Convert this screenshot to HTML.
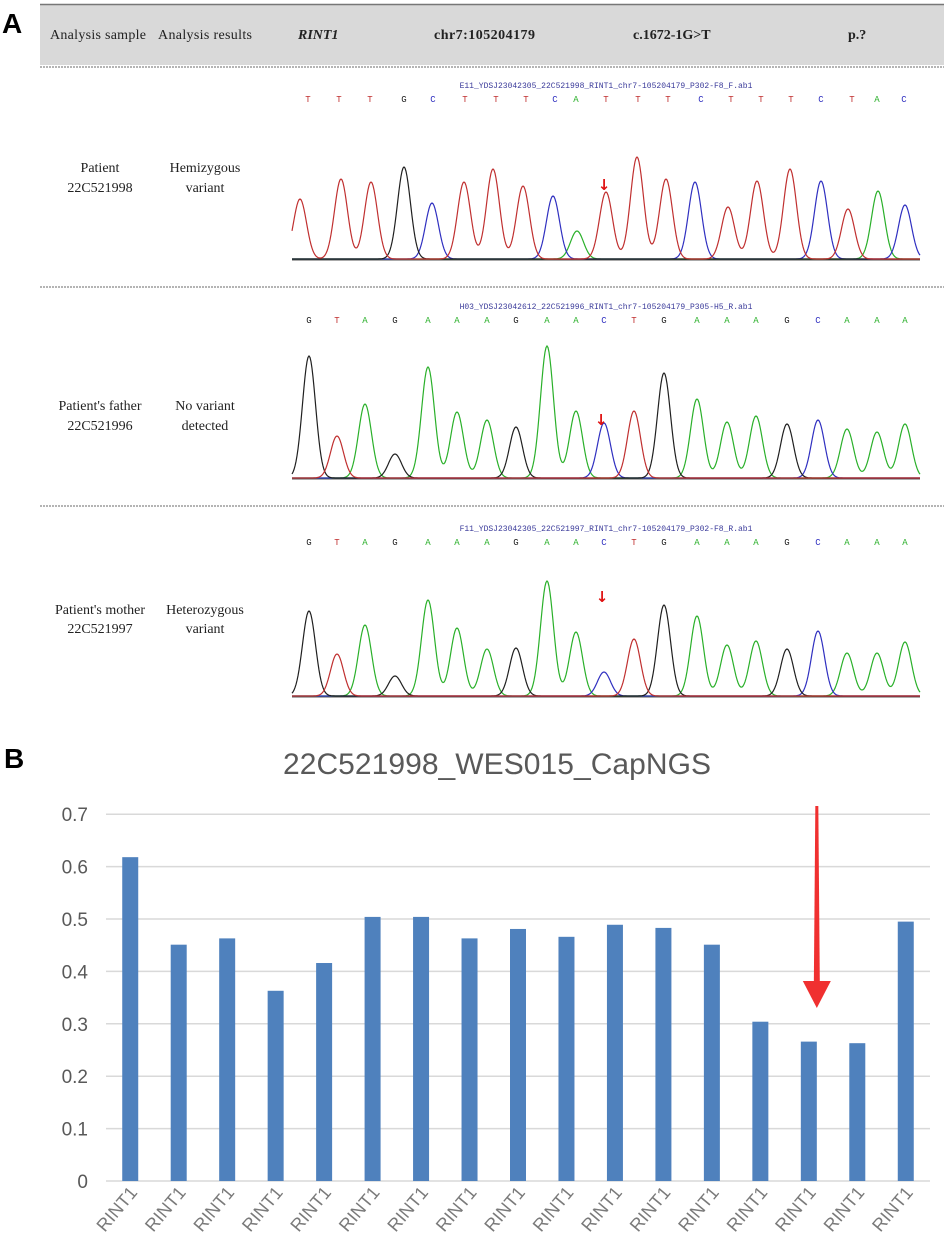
<!DOCTYPE html>
<html><head><meta charset="utf-8">
<style>
body{margin:0;background:#fff;width:944px;height:1249px;overflow:hidden;position:relative;font-family:"Liberation Serif",serif}
svg{position:absolute;left:0;top:0}
</style></head>
<body>
<svg id="fig" width="944" height="1249" viewBox="0 0 944 1249" xmlns="http://www.w3.org/2000/svg">
  <text x="2" y="33" font-family="Liberation Sans,sans-serif" font-weight="bold" font-size="28">A</text>
  <text x="4" y="768" font-family="Liberation Sans,sans-serif" font-weight="bold" font-size="28">B</text>
  <g>
    <rect x="40" y="4" width="904" height="61" fill="#d9d9d9"/>
    <line x1="40" y1="4.5" x2="944" y2="4.5" stroke="#777" stroke-width="1.5"/>
  </g>
  <g font-family="Liberation Serif,serif" font-size="14" fill="#222">
    <text x="50" y="39" textLength="96">Analysis sample</text>
    <text x="158" y="39" textLength="94">Analysis results</text>
    <text x="298" y="39" font-weight="bold" font-style="italic">RINT1</text>
    <text x="434" y="39" font-weight="bold" textLength="101">chr7:105204179</text>
    <text x="633" y="39" font-weight="bold">c.1672-1G&gt;T</text>
    <text x="848" y="39" font-weight="bold">p.?</text>
  </g>
  <g stroke="#888" stroke-dasharray="2,1" stroke-width="1.2">
    <line x1="40" y1="67" x2="944" y2="67"/>
    <line x1="40" y1="287" x2="944" y2="287"/>
    <line x1="40" y1="506" x2="944" y2="506"/>
  </g>
  <g font-family="Liberation Serif,serif" font-size="14" fill="#222" text-anchor="middle">
    <text x="100" y="172">Patient</text>
    <text x="100" y="192">22C521998</text>
    <text x="205" y="172">Hemizygous</text>
    <text x="205" y="192">variant</text>
    <text x="100" y="410">Patient's father</text>
    <text x="100" y="430">22C521996</text>
    <text x="205" y="410">No variant</text>
    <text x="205" y="430">detected</text>
    <text x="100" y="614">Patient's mother</text>
    <text x="100" y="633">22C521997</text>
    <text x="205" y="614">Heterozygous</text>
    <text x="205" y="633">variant</text>
  </g>
  <g id="chroms"></g>
  <g id="bars"></g>
</svg>
<script>
const NS="http://www.w3.org/2000/svg";
const COL={A:"#2ab02a",C:"#3030c0",G:"#202020",T:"#c03030"};
// chromatogram data
const bases1=["T","T","T","G","C","T","T","T","C","A","T","T","T","C","T","T","T","C","T","A","C"];
const pos1=[300,341,371,404,432,464,493,523,553,577,606,637,666,695,728,757,790,821,848,878,905];
const top1=[200,180,183,168,204,183,170,187,197,232,193,158,180,183,208,182,170,182,210,192,206];
const bases2=["G","T","A","G","A","A","A","G","A","A","C","T","G","A","A","A","G","C","A","A","A"];
const pos2=[309,337,365,395,428,457,487,516,547,576,604,634,664,697,727,756,787,818,847,877,905];
const top2=[357,437,405,455,368,413,421,428,347,412,424,412,374,400,423,417,425,421,430,433,425];
const top3=[612,655,626,677,601,629,650,649,582,633,673,640,606,617,646,642,650,632,654,654,643];
const chromSpecs=[
 {name:"patient",bases:bases1,pos:pos1,top:top1,base:260,x0:292,x1:920,fy:88,by:102,file:"E11_YDSJ23042305_22C521998_RINT1_chr7-105204179_P302-F8_F.ab1",arrow:[604,177],lx:[308,339,370,404,433,465,496,526,555,576,606,638,668,701,731,761,791,821,852,877,904]},
 {name:"father",bases:bases2,pos:pos2,top:top2,base:479,x0:292,x1:920,fy:309,by:323,file:"H03_YDSJ23042612_22C521996_RINT1_chr7-105204179_P305-H5_R.ab1",arrow:[601,412],lx:pos2},
 {name:"mother",bases:bases2,pos:pos2,top:top3,base:697,x0:292,x1:920,fy:531,by:545,file:"F11_YDSJ23042305_22C521997_RINT1_chr7-105204179_P302-F8_R.ab1",arrow:[602,589],lx:pos2}
];
const cg=document.getElementById("chroms");
chromSpecs.forEach(s=>{
  const g=document.createElementNS(NS,"g");
  
  
  cg.appendChild(g);
  const ft=document.createElementNS(NS,"text");
  ft.setAttribute("x",(s.x0+s.x1)/2);ft.setAttribute("y",s.fy);ft.setAttribute("text-anchor","middle");
  ft.setAttribute("font-family","Liberation Mono,monospace");ft.setAttribute("font-size","8");ft.setAttribute("fill","#3a3a9a");
  ft.textContent=s.file;
  
  
  g.appendChild(ft);
  s.bases.forEach((b,i)=>{
    const t=document.createElementNS(NS,"text");
    t.setAttribute("x",s.lx[i]);t.setAttribute("y",s.by);t.setAttribute("text-anchor","middle");
    t.setAttribute("font-family","Liberation Mono,monospace");t.setAttribute("font-size","9");t.setAttribute("fill",COL[b]);
    t.textContent=b;
    
    
    g.appendChild(t);
  });
  const bl=document.createElementNS(NS,"line");
  bl.setAttribute("x1",s.x0);bl.setAttribute("x2",s.x1);bl.setAttribute("y1",s.base);bl.setAttribute("y2",s.base);
  bl.setAttribute("stroke","#555");bl.setAttribute("stroke-width","1");
  
  
  g.appendChild(bl);
  ["A","C","G","T"].forEach(ch=>{
    let d="";
    for(let x=s.x0;x<=s.x1;x+=1){
      let y=0;
      s.bases.forEach((b,i)=>{ if(b===ch){const h=s.base-s.top[i];const dx=(x-s.pos[i])/6.5;y+=h*Math.exp(-dx*dx/2);} });
      d+=(x===s.x0?"M":"L")+x+","+(s.base-1-y).toFixed(1);
    }
    const p=document.createElementNS(NS,"path");
    p.setAttribute("d",d);p.setAttribute("fill","none");p.setAttribute("stroke",COL[ch]);p.setAttribute("stroke-width","1.2");
    
    
    g.appendChild(p);
  });
  const ar=document.createElementNS(NS,"text");
  ar.setAttribute("x",s.arrow[0]);ar.setAttribute("y",s.arrow[1]+13);ar.setAttribute("text-anchor","middle");
  ar.setAttribute("font-family","DejaVu Sans,sans-serif");ar.setAttribute("font-size","15");ar.setAttribute("font-weight","bold");ar.setAttribute("fill","#e01010");
  ar.textContent="↓";
  
  
  g.appendChild(ar);
});

// bar chart data
const categories=["RINT1","RINT1","RINT1","RINT1","RINT1","RINT1","RINT1","RINT1","RINT1","RINT1","RINT1","RINT1","RINT1","RINT1","RINT1","RINT1","RINT1"];
const values=[0.618,0.451,0.463,0.363,0.416,0.504,0.504,0.463,0.481,0.466,0.489,0.483,0.451,0.304,0.266,0.263,0.495];
const yTicks=[0,0.1,0.2,0.3,0.4,0.5,0.6,0.7];
const yTickLabels=["0","0.1","0.2","0.3","0.4","0.5","0.6","0.7"];
const highlightIndex=14;

const bg=document.getElementById("bars");
const X0=106,X1=930,Y0=1181,YPX=524;
const yS=v=>Y0-v*YPX;
const step=(X1-X0)/categories.length;
const xS=i=>X0+step*(i+0.5);
function mk(tag,attrs,parent){const e=document.createElementNS(NS,tag);for(const k in attrs)e.setAttribute(k,attrs[k]);(parent||bg).appendChild(e);return e;}
const title=mk("text",{x:497,y:774,"text-anchor":"middle","font-family":"Liberation Sans,sans-serif","font-size":"30",fill:"#595959",textLength:"428"});
title.textContent="22C521998_WES015_CapNGS";


yTicks.forEach((v,i)=>{
  const gl=mk("line",{x1:X0,x2:X1,y1:yS(v),y2:yS(v),stroke:"#d9d9d9","stroke-width":"1.5"});
  
  
  const t=mk("text",{x:88,y:yS(v)+7,"text-anchor":"end","font-family":"Liberation Sans,sans-serif","font-size":"19",fill:"#595959"});
  t.textContent=yTickLabels[i];
  
  
});
values.forEach((v,i)=>{
  const r=mk("rect",{x:xS(i)-8,y:yS(v),width:16,height:v*YPX,fill:"#4f81bd"});
  
  
  const t=mk("text",{x:xS(i)+8,y:1193,"text-anchor":"end","font-family":"Liberation Sans,sans-serif","font-size":"18",fill:"#7a7a7a",transform:"rotate(-50 "+(xS(i)+8)+" 1193)"});
  t.textContent=categories[i];
  
  
});
const ax=xS(highlightIndex)+8;
const ag=mk("g",{});


mk("polygon",{points:(ax-1.5)+",806 "+(ax+1.5)+",806 "+(ax+3)+",985 "+(ax-3)+",985",fill:"#f03030"},ag);
mk("polygon",{points:(ax-14)+",981 "+(ax+14)+",981 "+ax+",1008",fill:"#f03030"},ag);
</script>
</body></html>
